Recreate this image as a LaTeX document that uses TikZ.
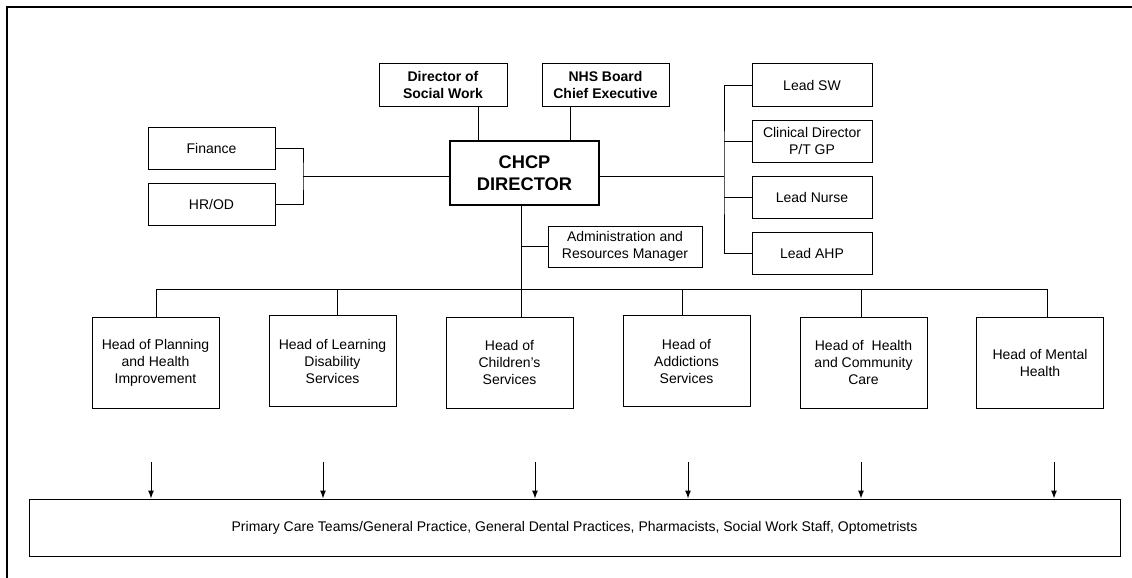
\documentclass[tikz,border=0pt]{standalone}
\usepackage{fontspec}
\setmainfont{Liberation Sans}
\usetikzlibrary{shapes, arrows, arrows.meta, fit, calc, positioning}

\tikzset{
    orgbox/.style={draw, line width=1pt, align=center, inner sep=0pt,
        font=\fontsize{14}{17}\selectfont},
    boldbox/.style={orgbox, font=\fontsize{14}{17}\selectfont\bfseries},
    headbox/.style={orgbox, minimum width=127pt, minimum height=91pt},
    leadbox/.style={orgbox, minimum width=120pt, minimum height=42pt},
    link/.style={line width=1pt},
}

\begin{document}
\begin{tikzpicture}[x=1pt, y=-1pt]
    \useasboundingbox (0,0) rectangle (1132,578);
    % page frame
    \draw[line width=2pt] (7,578) -- (7,7) -- (1132,7);

    % top tier
    \node[orgbox, line width=2.5pt, minimum width=149pt, minimum height=64pt,
        font=\fontsize{18.3}{21.7}\selectfont\bfseries] (chcp) at (524.5,173) {CHCP\\DIRECTOR};
    \node[boldbox, minimum width=128pt, minimum height=42pt] (dsw) at (443,85) {Director of\\Social Work};
    \node[boldbox, minimum width=127pt, minimum height=42pt] (nhs) at (605.5,85) {NHS Board\\Chief Executive};
    \node[orgbox, minimum width=127pt, minimum height=42pt] (fin) at (211.5,148) {Finance};
    \node[orgbox, minimum width=127pt, minimum height=42pt] (hrod) at (211.5,204) {HR/OD};
    \node[leadbox] (lsw) at (812,85) {Lead SW};
    \node[leadbox] (cdir) at (812,141) {Clinical Director\\P/T GP};
    \node[leadbox] (lnur) at (812,197) {Lead Nurse};
    \node[leadbox] (lahp) at (812,253) {Lead AHP};
    \node[orgbox, minimum width=154pt, minimum height=41pt] (adm) at (625,246.5) {Administration and\\Resources Manager};

    \coordinate (tdsw) at (478,0);
    \coordinate (tnhs) at (570,0);
    \draw[link] (dsw.south -| tdsw) -- (chcp.north -| tdsw);
    \draw[link] (nhs.south -| tnhs) -- (chcp.north -| tnhs);

    \coordinate (lj) at (303,176);
    \draw[link] (fin.east) -| (lj) |- (hrod.east);
    \draw[link] (lj) -- (chcp.west |- lj);

    \coordinate (rj) at (724,176);
    \draw[link] (chcp.east |- rj) -- (rj);
    \draw[link] (lsw.west) -| (rj) |- (lahp.west);
    \draw[link] (cdir.west) -- (cdir.west -| rj);
    \draw[link] (lnur.west) -- (lnur.west -| rj);

    % heads of service
    \node[headbox] (hpl) at (155.5,362.5) {Head of Planning\\and Health\\Improvement};
    \node[headbox] (hld) at (332.5,361) {Head of Learning\\Disability\\Services};
    \node[headbox] (hch) at (509.5,362.5) {Head of\\Children’s\\Services};
    \node[headbox] (had) at (686.5,361) {Head of\\Addictions\\Services};
    \node[headbox] (hhc) at (863.5,362.5) {Head of\ \ Health\\and Community\\Care};
    \node[headbox] (hmh) at (1040,362.5) {Head of Mental\\Health};

    \coordinate (trunk) at (521,289);
    \draw[link] (chcp.south -| trunk) -- (trunk);
    \draw[link] (adm.west) -- (adm.west -| trunk);

    \coordinate (b1) at (156,289);
    \coordinate (b2) at (337,289);
    \coordinate (b4) at (682,289);
    \coordinate (b5) at (861,289);
    \coordinate (b6) at (1047,289);
    \draw[link] (b1) -- (b6);
    \draw[link] (b1) -- (b1 |- hpl.north);
    \draw[link] (b2) -- (b2 |- hld.north);
    \draw[link] (trunk) -- (trunk |- hch.north);
    \draw[link] (b4) -- (b4 |- had.north);
    \draw[link] (b5) -- (b5 |- hhc.north);
    \draw[link] (b6) -- (b6 |- hmh.north);

    % front line staff
    \node[orgbox, minimum width=1091pt, minimum height=57pt] (pc) at (574.5,527.5)
        {Primary Care Teams/General Practice, General Dental Practices, Pharmacists, Social Work Staff, Optometrists};
    \foreach \ax [count=\i] in {151,323,535,688,861,1054} {
        \coordinate (a\i) at (\ax,462);
        \draw[link, -{Latex[length=8pt,width=6pt]}] (a\i) -- (a\i |- pc.north);
    }
\end{tikzpicture}
\end{document}
